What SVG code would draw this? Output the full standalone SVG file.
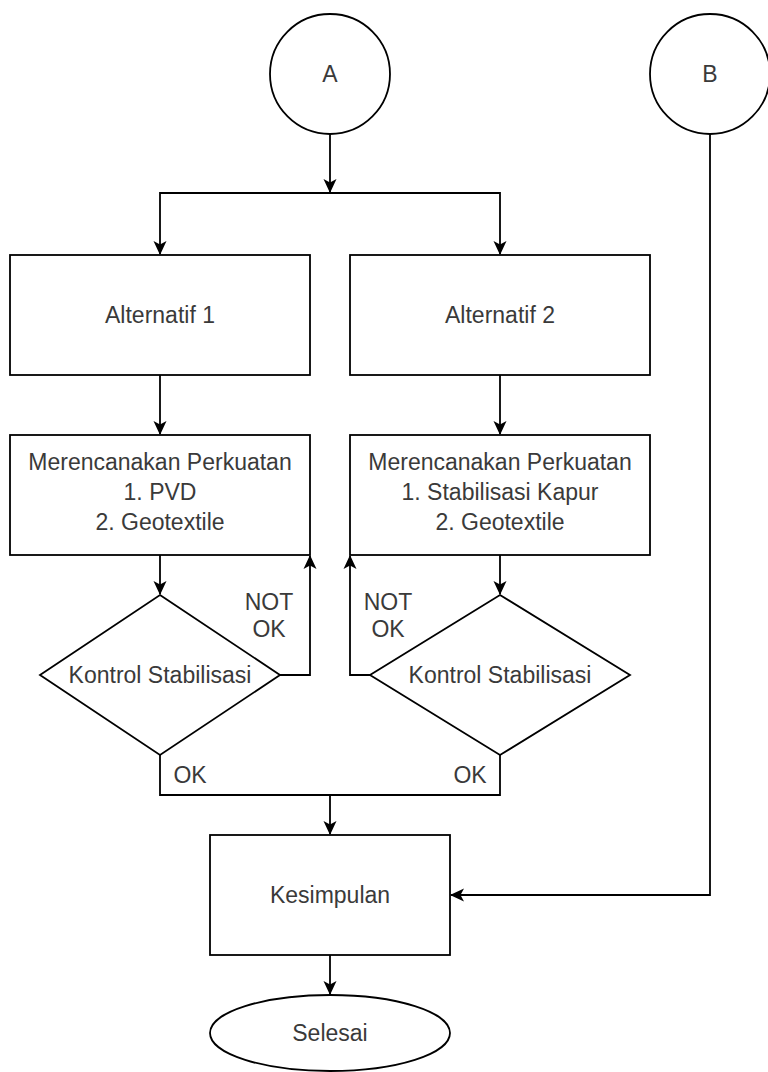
<svg xmlns="http://www.w3.org/2000/svg" width="768" height="1072" viewBox="0 0 768 1072">
<style>
.s{fill:#fff;stroke:#000;stroke-width:1.8}
.c{fill:none;stroke:#000;stroke-width:1.8}
text{font-family:"Liberation Sans",Arial,sans-serif;font-size:23px;fill:#3a3a3a;text-anchor:middle}
</style>
<defs>
<marker id="ar" markerUnits="userSpaceOnUse" markerWidth="14" markerHeight="14" viewBox="0 0 14 14" refX="13" refY="7" orient="auto">
<path d="M0,0.5 L14,7 L0,13.5 L3.5,7 z" fill="#000"/>
</marker>
</defs>
<g id="connectors">
<path class="c" d="M330 134 V192" marker-end="url(#ar)"/>
<path class="c" d="M330 193 H160 V254" marker-end="url(#ar)"/>
<path class="c" d="M330 193 H500 V254" marker-end="url(#ar)"/>
<path class="c" d="M160 375 V434" marker-end="url(#ar)"/>
<path class="c" d="M500 375 V434" marker-end="url(#ar)"/>
<path class="c" d="M160 555 V594" marker-end="url(#ar)"/>
<path class="c" d="M500 555 V594" marker-end="url(#ar)"/>
<path class="c" d="M280 675 H310 V556" marker-end="url(#ar)"/>
<path class="c" d="M370 675 H350 V556" marker-end="url(#ar)"/>
<path class="c" d="M160 755 V795 H330 V834" marker-end="url(#ar)"/>
<path class="c" d="M500 755 V795 H330"/>
<path class="c" d="M710 134 V895 H451" marker-end="url(#ar)"/>
<path class="c" d="M330 955 V994" marker-end="url(#ar)"/>
<text x="269" y="610">NOT</text>
<text x="269" y="637">OK</text>
<text x="388" y="610">NOT</text>
<text x="388" y="637">OK</text>
<text x="190" y="783">OK</text>
<text x="470" y="783">OK</text>
</g>
<g id="nodeA"><circle class="s" cx="330" cy="74" r="60"/><text x="330" y="82">A</text></g>
<g id="nodeB"><circle class="s" cx="710" cy="74" r="60"/><text x="710" y="82">B</text></g>
<g id="alt1"><rect class="s" x="10" y="255" width="300" height="120"/><text x="160" y="323">Alternatif 1</text></g>
<g id="alt2"><rect class="s" x="350" y="255" width="300" height="120"/><text x="500" y="323">Alternatif 2</text></g>
<g id="plan1"><rect class="s" x="10" y="435" width="300" height="120"/>
<text x="160" y="470">Merencanakan Perkuatan</text><text x="160" y="500">1. PVD</text><text x="160" y="530">2. Geotextile</text></g>
<g id="plan2"><rect class="s" x="350" y="435" width="300" height="120"/>
<text x="500" y="470">Merencanakan Perkuatan</text><text x="500" y="500">1. Stabilisasi Kapur</text><text x="500" y="530">2. Geotextile</text></g>
<g id="dec1"><polygon class="s" points="160,595 280,675 160,755 40,675"/><text x="160" y="683">Kontrol Stabilisasi</text></g>
<g id="dec2"><polygon class="s" points="500,595 630,675 500,755 370,675"/><text x="500" y="683">Kontrol Stabilisasi</text></g>
<g id="kesimpulan"><rect class="s" x="210" y="835" width="240" height="120"/><text x="330" y="903">Kesimpulan</text></g>
<g id="selesai"><ellipse class="s" cx="330" cy="1033" rx="120" ry="38"/><text x="330" y="1041">Selesai</text></g>
</svg>
